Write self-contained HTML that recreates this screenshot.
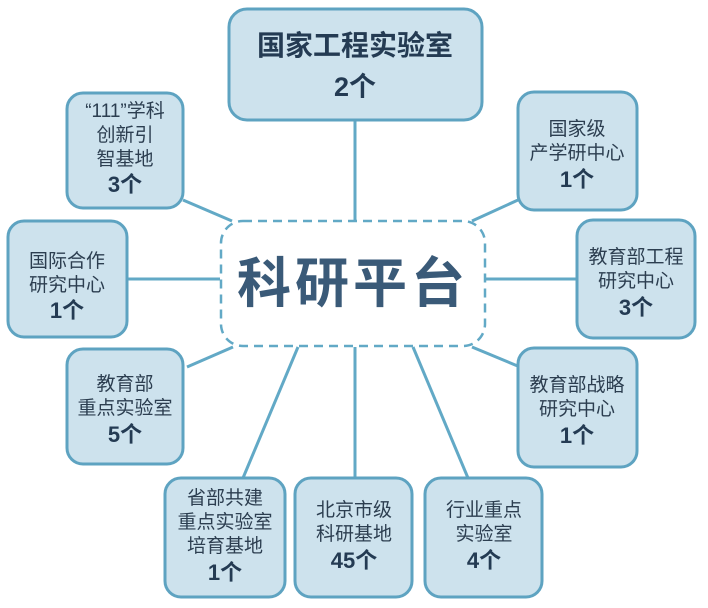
<!DOCTYPE html>
<html><head><meta charset="utf-8"><style>
html,body{margin:0;padding:0;background:#fff;}
svg{display:block;}
text{font-family:"Liberation Sans","Noto Sans CJK SC",sans-serif;fill:#2c3e50;text-anchor:middle;}
.n{font-size:19px;}
.b{font-size:22px;font-weight:bold;fill:#243b53;}
</style></head><body>
<svg width="708" height="608" viewBox="0 0 708 608">
<g stroke="#62a9c6" stroke-width="3" fill="none">
<line x1="355" y1="120" x2="355" y2="220"/>
<line x1="183" y1="200" x2="232" y2="221"/>
<line x1="127" y1="279" x2="220" y2="279"/>
<line x1="187" y1="367" x2="233" y2="347"/>
<line x1="243" y1="478" x2="298" y2="347"/>
<line x1="355" y1="478" x2="355" y2="347"/>
<line x1="468" y1="478" x2="413" y2="347"/>
<line x1="518" y1="200" x2="472" y2="221"/>
<line x1="577" y1="279" x2="485" y2="279"/>
<line x1="520" y1="367" x2="472" y2="347"/>
</g>
<rect x="221" y="221" width="264" height="125" rx="22" fill="#fff" stroke="#62a9c6" stroke-width="2.5" stroke-dasharray="9,6"/>
<text x="353" y="302" style="font-size:54px;font-weight:bold;fill:#3a5a78;letter-spacing:4px">科研平台</text>
<g fill="#cde2ed" stroke="#5ea3c1" stroke-width="3">
<rect x="229" y="9" width="253" height="111" rx="18"/>
<rect x="67" y="93" width="116" height="115" rx="16"/>
<rect x="8" y="221" width="119" height="116" rx="16"/>
<rect x="67" y="349" width="116" height="115" rx="16"/>
<rect x="165" y="478" width="120" height="119" rx="16"/>
<rect x="295" y="478" width="117" height="119" rx="16"/>
<rect x="425" y="478" width="117" height="119" rx="16"/>
<rect x="518" y="92" width="119" height="118" rx="16"/>
<rect x="577" y="220" width="118" height="118" rx="16"/>
<rect x="518" y="348" width="119" height="119" rx="16"/>
</g>
<text x="355" y="55" style="font-size:28px;font-weight:bold;fill:#243b53">国家工程实验室</text>
<text x="355" y="96" style="font-size:27px;font-weight:bold;fill:#243b53">2个</text>

<text class="n" x="125" y="117">“111”学科</text>
<text class="n" x="125" y="141">创新引</text>
<text class="n" x="125" y="165">智基地</text>
<text class="b" x="125" y="192">3个</text>

<text class="n" x="67" y="267">国际合作</text>
<text class="n" x="67" y="291">研究中心</text>
<text class="b" x="67" y="318">1个</text>

<text class="n" x="125" y="390">教育部</text>
<text class="n" x="125" y="414">重点实验室</text>
<text class="b" x="125" y="442">5个</text>

<text class="n" x="225" y="504">省部共建</text>
<text class="n" x="225" y="528">重点实验室</text>
<text class="n" x="225" y="552">培育基地</text>
<text class="b" x="225" y="580">1个</text>

<text class="n" x="354" y="516">北京市级</text>
<text class="n" x="354" y="540">科研基地</text>
<text class="b" x="354" y="568">45个</text>

<text class="n" x="484" y="516">行业重点</text>
<text class="n" x="484" y="540">实验室</text>
<text class="b" x="484" y="568">4个</text>

<text class="n" x="577" y="135">国家级</text>
<text class="n" x="577" y="159">产学研中心</text>
<text class="b" x="577" y="187">1个</text>

<text class="n" x="636" y="263">教育部工程</text>
<text class="n" x="636" y="287">研究中心</text>
<text class="b" x="636" y="315">3个</text>

<text class="n" x="577" y="391">教育部战略</text>
<text class="n" x="577" y="415">研究中心</text>
<text class="b" x="577" y="443">1个</text>
</svg>
</body></html>
